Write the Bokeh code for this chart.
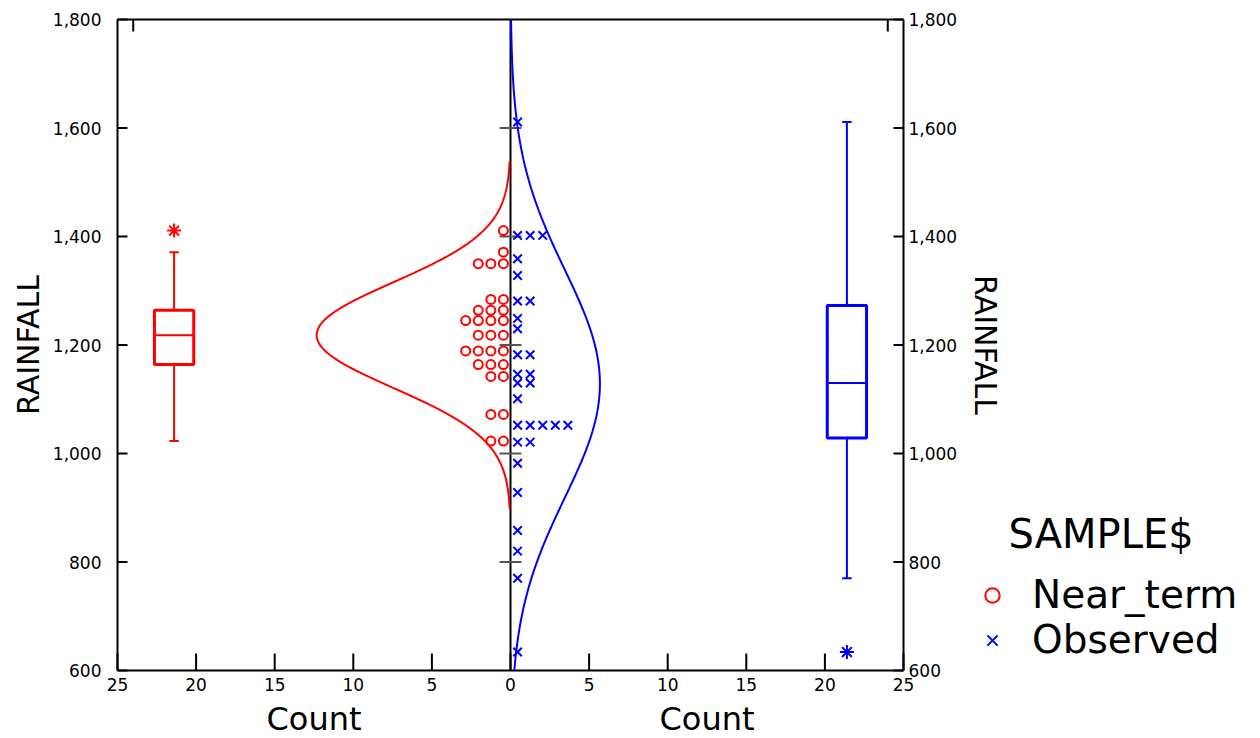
import numpy as np
from bokeh.plotting import figure
from bokeh.models import Range1d, Label, Legend, LegendItem
from bokeh.embed import file_html
from bokeh.resources import INLINE
from bokeh.core.properties import value

# Rainfall samples (mm)
near_term = [1411, 1371, 1350, 1350, 1350, 1284, 1284, 1264, 1264, 1264,
             1245, 1245, 1245, 1245, 1218, 1218, 1218, 1189, 1189, 1189,
             1189, 1164, 1164, 1164, 1142, 1142, 1072, 1072, 1023, 1023]
observed = [1611, 1402, 1402, 1402, 1359, 1328, 1281, 1281, 1249, 1230,
            1182, 1182, 1146, 1146, 1130, 1130, 1101, 1052, 1052, 1052,
            1052, 1052, 1021, 1021, 982, 928, 858, 820, 770, 634]
near_term_outliers = [1411]
observed_outliers = [634]

sample_names = ["Near_term", "Observed"]
count_ticks = [-25, -20, -15, -10, -5, 0, 5, 10, 15, 20, 25]
count_tick_labels = [str(abs(t)) for t in count_ticks]
rain_ticks = [600, 800, 1000, 1200, 1400, 1600, 1800]
rain_tick_labels = [f"{t:,}" for t in rain_ticks]
inner_ticks = [800, 1000, 1200, 1400, 1600]
bin_width = 100
count_max = 25
rain_min, rain_max = 600, 1800

RED = "#ff0000"
BLUE = "#0000ff"
FONT = "DejaVu Sans"

# geometry (pixels) of the chart panel inside the canvas
LEFT, TOP = 117, 19
PANEL_W, PANEL_H = 786, 651
CANVAS_W, CANVAS_H = 1260, 738
PX = PANEL_W / (2 * count_max)              # pixels per count unit
PY = PANEL_H / (rain_max - rain_min)        # pixels per mm
x_lo = -count_max - LEFT / PX
x_hi = count_max + (CANVAS_W - LEFT - PANEL_W) / PX
y_lo = rain_min - (CANVAS_H - TOP - PANEL_H) / PY
y_hi = rain_max + TOP / PY

DOT_STEP = 0.8      # horizontal spacing of stacked symbols, in count units
DOT_START = 0.45
BOX_CENTER = 21.4
BOX_HALF = 1.25
CAP_HALF = 0.3


def stacked(values, side):
    xs, ys, seen = [], [], {}
    for v in sorted(values):
        k = seen.get(v, 0)
        seen[v] = k + 1
        xs.append(side * (DOT_START + DOT_STEP * k))
        ys.append(v)
    return xs, ys


def normal_curve(values, side, span=3.3):
    v = np.asarray(values, float)
    m, s = v.mean(), v.std(ddof=1)
    y = np.linspace(m - span * s, m + span * s, 400)
    c = len(v) * bin_width / (s * np.sqrt(2 * np.pi)) * np.exp(-0.5 * ((y - m) / s) ** 2)
    return side * c, y


def box_stats(values, outliers):
    v = np.asarray(values, float)
    q1, med, q3 = np.percentile(v, [25, 50, 75])
    inner = v[~np.isin(v, outliers)]
    return q1, med, q3, inner.min(), inner.max()


p = figure(x_range=Range1d(x_lo, x_hi), y_range=Range1d(y_lo, y_hi),
           frame_width=CANVAS_W, frame_height=CANVAS_H,
           min_border=0, x_axis_location=None, y_axis_location=None,
           toolbar_location=None, output_backend="svg",
           background_fill_color="white", border_fill_color="white")
p.grid.visible = False
p.outline_line_color = None

n_c = len(count_ticks)
n_r = len(rain_ticks)
tick_dx = 10 / PX
tick_dy_bottom = 17 / PY
tick_dy_top = 12 / PY
axis_style = dict(line_color="black", line_width=2)
tick_font = dict(text_font=value(FONT), text_font_size="17px", text_color="black")
title_font = dict(text_font=value(FONT), text_color="black")

# frame of the two-sided panel
p.segment(x0=[-count_max, -count_max, -count_max, count_max],
          y0=[rain_min, rain_max, rain_min, rain_min],
          x1=[count_max, count_max, -count_max, count_max],
          y1=[rain_min, rain_max, rain_max, rain_max], **axis_style)

# bottom count scale
p.segment(x0=count_ticks, y0=[rain_min] * n_c, x1=count_ticks,
          y1=[rain_min + tick_dy_bottom] * n_c, **axis_style)
p.text(x=count_ticks, y=[rain_min] * n_c, text=count_tick_labels, y_offset=7,
       text_align="center", text_baseline="top", **tick_font)
p.text(x=[-count_max / 2, count_max / 2], y=[rain_min] * 2, text=["Count", "Count"],
       y_offset=48, text_font_size="32px", text_align="center",
       text_baseline="middle", **title_font)

# top ticks
p.segment(x0=[-24, 24], y0=[rain_max] * 2, x1=[-24, 24],
          y1=[rain_max - tick_dy_top] * 2, **axis_style)

# left rainfall scale
p.segment(x0=[-count_max] * n_r, y0=rain_ticks, x1=[-count_max + tick_dx] * n_r,
          y1=rain_ticks, **axis_style)
p.text(x=[-count_max] * n_r, y=rain_ticks, text=rain_tick_labels, x_offset=-16,
       text_align="right", text_baseline="middle", **tick_font)
p.text(x=[-count_max], y=[(rain_min + rain_max) / 2], text=["RAINFALL"], x_offset=-89,
       angle=np.pi / 2, text_font_size="30px", text_align="center",
       text_baseline="middle", **title_font)

# right rainfall scale
p.segment(x0=[count_max] * n_r, y0=rain_ticks, x1=[count_max - tick_dx] * n_r,
          y1=rain_ticks, **axis_style)
p.text(x=[count_max] * n_r, y=rain_ticks, text=rain_tick_labels, x_offset=5,
       text_align="left", text_baseline="middle", **tick_font)
p.text(x=[count_max], y=[(rain_min + rain_max) / 2], text=["RAINFALL"], x_offset=82,
       angle=-np.pi / 2, text_font_size="30px", text_align="center",
       text_baseline="middle", **title_font)

# centre baseline and its ticks
p.segment(x0=[0], y0=[rain_min], x1=[0], y1=[rain_max], **axis_style)
p.segment(x0=[-0.7] * len(inner_ticks), y0=inner_ticks,
          x1=[0.7] * len(inner_ticks), y1=inner_ticks,
          line_color="#555555", line_width=2)

# fitted normal curves
cx, cy = normal_curve(near_term, -1)
p.line(cx, cy, line_color=RED, line_width=2)
cx, cy = normal_curve(observed, 1)
keep = (cy >= rain_min) & (cy <= rain_max)
p.line(cx[keep], cy[keep], line_color=BLUE, line_width=2)

# stacked dot histograms
nx, ny = stacked(near_term, -1)
r_near = p.scatter(nx, ny, marker="circle", size=9, fill_color=None,
                   line_color=RED, line_width=2)
ox, oy = stacked(observed, 1)
r_obs = p.scatter(ox, oy, marker="x", size=12, line_color=BLUE, line_width=2)

# box plots
for values, outs, side, col in [(near_term, near_term_outliers, -1, RED),
                                (observed, observed_outliers, 1, BLUE)]:
    q1, med, q3, lo, hi = box_stats(values, outs)
    c = side * BOX_CENTER
    p.quad(left=[c - BOX_HALF], right=[c + BOX_HALF], bottom=[q1], top=[q3],
           fill_color=None, line_color=col, line_width=3)
    p.segment(x0=[c - BOX_HALF], y0=[med], x1=[c + BOX_HALF], y1=[med],
              line_color=col, line_width=2)
    p.segment(x0=[c, c], y0=[q3, q1], x1=[c, c], y1=[hi, lo],
              line_color=col, line_width=2)
    p.segment(x0=[c - CAP_HALF] * 2, y0=[hi, lo], x1=[c + CAP_HALF] * 2, y1=[hi, lo],
              line_color=col, line_width=2)
    p.scatter([c] * len(outs), outs, marker="asterisk", size=14,
              line_color=col, line_width=2)

# legend
p.add_layout(Label(x=1008, y=CANVAS_H - 533, x_units="screen", y_units="screen",
                   text="SAMPLE$", text_font=FONT, text_font_size="40px",
                   text_baseline="alphabetic", text_color="black"))
legend = Legend(items=[LegendItem(label=sample_names[0], renderers=[r_near]),
                       LegendItem(label=sample_names[1], renderers=[r_obs])],
                location=(974, CANVAS_H - 662), padding=0, margin=0, spacing=0,
                glyph_width=36, glyph_height=36, label_standoff=22,
                label_text_font=FONT, label_text_font_size="39px",
                label_text_color="black",
                border_line_color=None, background_fill_alpha=0)
p.add_layout(legend)

open("out.html", "w").write(file_html(p, INLINE))
